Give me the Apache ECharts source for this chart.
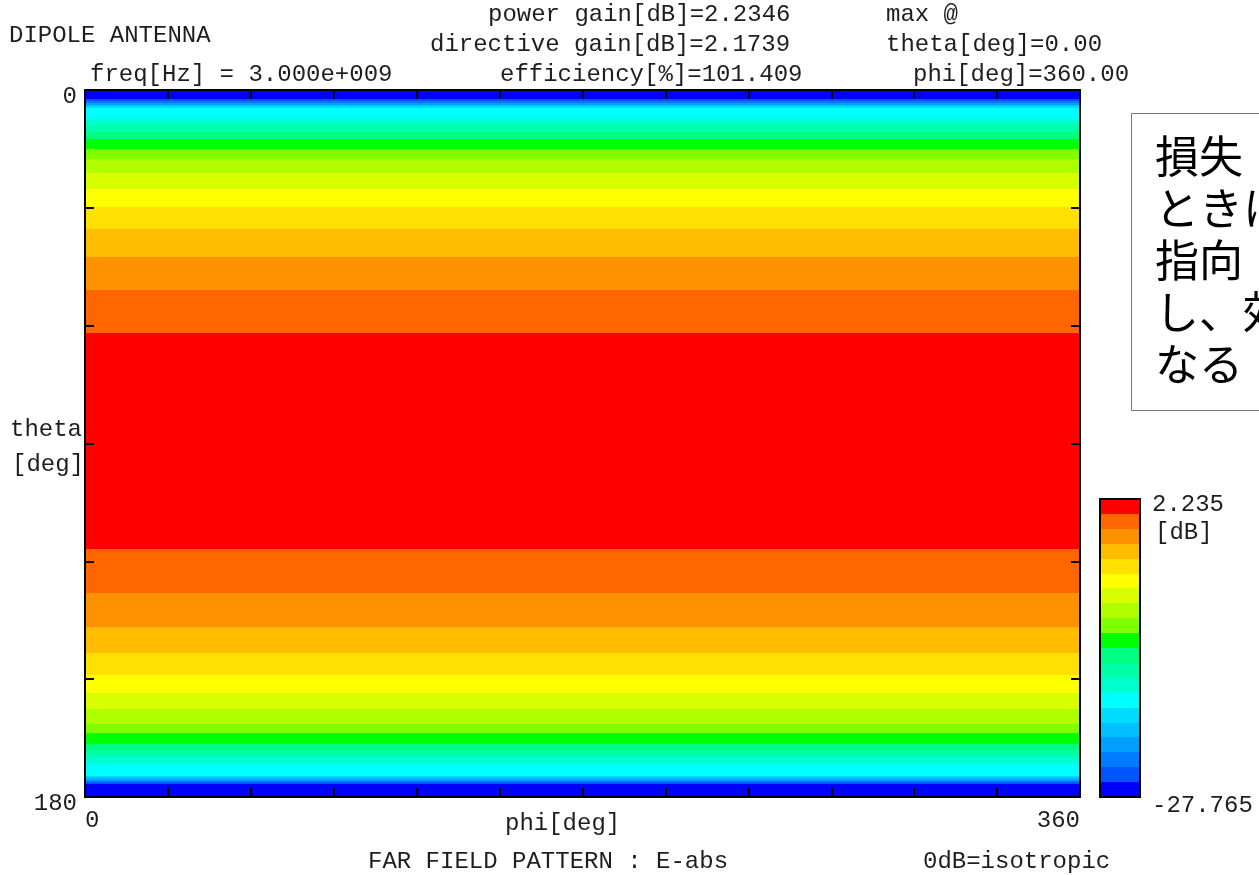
<!DOCTYPE html>
<html>
<head>
<meta charset="utf-8">
<title>DIPOLE ANTENNA - FAR FIELD PATTERN</title>
<script src="https://cdn.jsdelivr.net/npm/echarts@6/dist/echarts.min.js"></script>
<style>
  html, body { margin: 0; padding: 0; background: #fff; }
  #chart { width: 1259px; height: 875px; }
</style>
</head>
<body>
<div id="chart"></div>
<script>
// theta band edges [deg] (pattern is constant along phi)
const thetaEdges = [0, 2.4, 2.8, 3.3, 3.8, 4.2, 4.7, 7.3, 9.0, 10.7, 12.4, 14.9, 17.6, 21.1, 25.1,
  29.9, 35.5, 42.4, 50.8, 61.8, 116.9, 128.1, 136.8, 143.4, 149.0, 153.6, 157.5, 161.3, 163.8,
  166.4, 168.1, 169.8, 171.5, 174.6, 175.0, 175.4, 175.8, 176.2, 176.6, 180];
// gain of each band [dB]
const bandGain = [-27.0, -25.5, -24.0, -22.5, -21.0, -19.5, -18.0, -16.5, -15.0, -13.5, -12.0,
  -10.5, -9.0, -7.5, -6.0, -4.5, -3.0, -1.5, 0.0, 1.5, 0.0, -1.5, -3.0, -4.5, -6.0, -7.5, -9.0,
  -10.5, -12.0, -13.5, -15.0, -16.5, -18.0, -19.5, -21.0, -22.5, -24.0, -25.5, -27.0];

// colour scale (bottom -> top)
const gainMin = -27.765;
const gainMax = 2.235;
const levelColors = ['#0000ff', '#0055ff', '#007cff', '#00a0ff', '#00c0ff', '#00dcff', '#00ffff',
  '#00ffd0', '#00ffa8', '#00ff80', '#00ff00', '#80ff00', '#b0ff00', '#d8ff00', '#ffff00',
  '#ffe000', '#ffbc00', '#ff9200', '#ff6600', '#ff0000'];

const phiTicks = [0, 360];
const thetaTicks = [0, 180];

const step = (gainMax - gainMin) / levelColors.length;
const pieces = levelColors.map((c, i) => ({
  gte: gainMin + i * step,
  lt: i === levelColors.length - 1 ? gainMax + 1e-6 : gainMin + (i + 1) * step,
  color: c
}));

const bands = bandGain.map((g, i) => [thetaEdges[i], thetaEdges[i + 1], g]);
const barCells = levelColors.map((c, i) => [gainMin + i * step, gainMin + (i + 1) * step, gainMin + (i + 0.5) * step]);

const mono = 'Liberation Mono, DejaVu Sans Mono, monospace';
const ink = '#1e1e1e';

function bandRect(params, api) {
  const a = api.coord([0, api.value(0)]);
  const b = api.coord([360, api.value(1)]);
  const y0 = Math.round(a[1]);
  const y1 = Math.round(b[1]);
  return {
    type: 'rect',
    shape: { x: a[0], y: Math.min(y0, y1), width: b[0] - a[0], height: Math.abs(y1 - y0) },
    style: { fill: api.visual('color') }
  };
}

function cellRect(params, api) {
  const a = api.coord([0, api.value(0)]);
  const b = api.coord([1, api.value(1)]);
  const y0 = Math.round(a[1]);
  const y1 = Math.round(b[1]);
  return {
    type: 'rect',
    shape: { x: a[0], y: Math.min(y0, y1), width: b[0] - a[0], height: Math.abs(y1 - y0) },
    style: { fill: api.visual('color') }
  };
}

const frameLine = { show: true, onZero: false, lineStyle: { color: '#000', width: 2 } };
const inTick = { show: true, inside: true, length: 9, lineStyle: { color: '#000', width: 2 } };

function txt(x, y, s, extra) {
  return Object.assign({
    type: 'text', x: x, y: y, z: 20,
    style: Object.assign({ text: s, fill: ink, font: '24px ' + mono, verticalAlign: 'middle' }, extra || {})
  });
}

const chart = echarts.init(document.getElementById('chart'));
chart.setOption({
  backgroundColor: '#fff',
  animation: false,
  grid: [
    { left: 85, top: 90, width: 995, height: 707 },
    { left: 1100, top: 499, width: 40, height: 298 }
  ],
  xAxis: [
    {
      gridIndex: 0, type: 'value', position: 'bottom', min: 0, max: 360, interval: 30, z: 5,
      axisLine: frameLine, axisTick: inTick, splitLine: { show: false },
      axisLabel: {
        margin: 12, color: ink, fontFamily: mono, fontSize: 24,
        alignMinLabel: 'left', alignMaxLabel: 'right',
        formatter: v => (phiTicks.indexOf(v) >= 0 ? String(v) : '')
      }
    },
    {
      gridIndex: 0, type: 'value', position: 'top', min: 0, max: 360, interval: 30, z: 5,
      axisLine: frameLine, axisTick: inTick, splitLine: { show: false }, axisLabel: { show: false }
    },
    {
      gridIndex: 1, type: 'value', position: 'bottom', min: 0, max: 1, z: 5,
      axisLine: frameLine, axisTick: { show: false }, splitLine: { show: false }, axisLabel: { show: false }
    },
    {
      gridIndex: 1, type: 'value', position: 'top', min: 0, max: 1, z: 5,
      axisLine: frameLine, axisTick: { show: false }, splitLine: { show: false }, axisLabel: { show: false }
    }
  ],
  yAxis: [
    {
      gridIndex: 0, type: 'value', position: 'left', inverse: true, min: 0, max: 180, interval: 30, z: 5,
      axisLine: frameLine, axisTick: inTick, splitLine: { show: false },
      axisLabel: {
        margin: 8, color: ink, fontFamily: mono, fontSize: 24,
        verticalAlign: 'top', lineHeight: 14,
        formatter: v => (thetaTicks.indexOf(v) >= 0 ? String(v) : '')
      }
    },
    {
      gridIndex: 0, type: 'value', position: 'right', inverse: true, min: 0, max: 180, interval: 30, z: 5,
      axisLine: frameLine, axisTick: inTick, splitLine: { show: false }, axisLabel: { show: false }
    },
    {
      gridIndex: 1, type: 'value', position: 'left', min: gainMin, max: gainMax, z: 5,
      axisLine: frameLine, axisTick: { show: false }, splitLine: { show: false }, axisLabel: { show: false }
    },
    {
      gridIndex: 1, type: 'value', position: 'right', min: gainMin, max: gainMax, z: 5,
      axisLine: frameLine, axisTick: { show: false }, splitLine: { show: false }, axisLabel: { show: false }
    }
  ],
  visualMap: {
    type: 'piecewise', show: false, dimension: 2, seriesIndex: [0, 1], pieces: pieces
  },
  series: [
    {
      name: 'E-abs', type: 'custom', xAxisIndex: 0, yAxisIndex: 0,
      renderItem: bandRect, encode: { y: [0, 1] }, data: bands, silent: true
    },
    {
      name: 'scale', type: 'custom', xAxisIndex: 2, yAxisIndex: 2,
      renderItem: cellRect, encode: { y: [0, 1] }, data: barCells, silent: true
    }
  ],
  graphic: [
    txt(9, 36, 'DIPOLE ANTENNA'),
    txt(488, 15, 'power gain[dB]=2.2346'),
    txt(430, 45, 'directive gain[dB]=2.1739'),
    txt(90, 75, 'freq[Hz] = 3.000e+009'),
    txt(500, 75, 'efficiency[%]=101.409'),
    txt(886, 15, 'max @'),
    txt(886, 45, 'theta[deg]=0.00'),
    txt(913, 75, 'phi[deg]=360.00'),
    txt(10, 430, 'theta'),
    txt(12, 465, '[deg]'),
    txt(505, 824, 'phi[deg]'),
    txt(368, 862, 'FAR FIELD PATTERN : E-abs'),
    txt(923, 862, '0dB=isotropic'),
    txt(1152, 505, '2.235'),
    txt(1155, 533, '[dB]'),
    txt(1152, 806, '-27.765'),
    {
      type: 'rect', z: 18,
      shape: { x: 1131.5, y: 113.5, width: 200, height: 297 },
      style: { fill: '#fff', stroke: '#777', lineWidth: 1 }
    },
    {
      type: 'text', x: 1155, y: 130, z: 20,
      style: {
        text: '損失\nときに\n指向\nし、効\nなる',
        fill: '#000',
        font: '44px "Noto Sans CJK JP", sans-serif',
        lineHeight: 52
      }
    }
  ]
});
</script>
</body>
</html>
